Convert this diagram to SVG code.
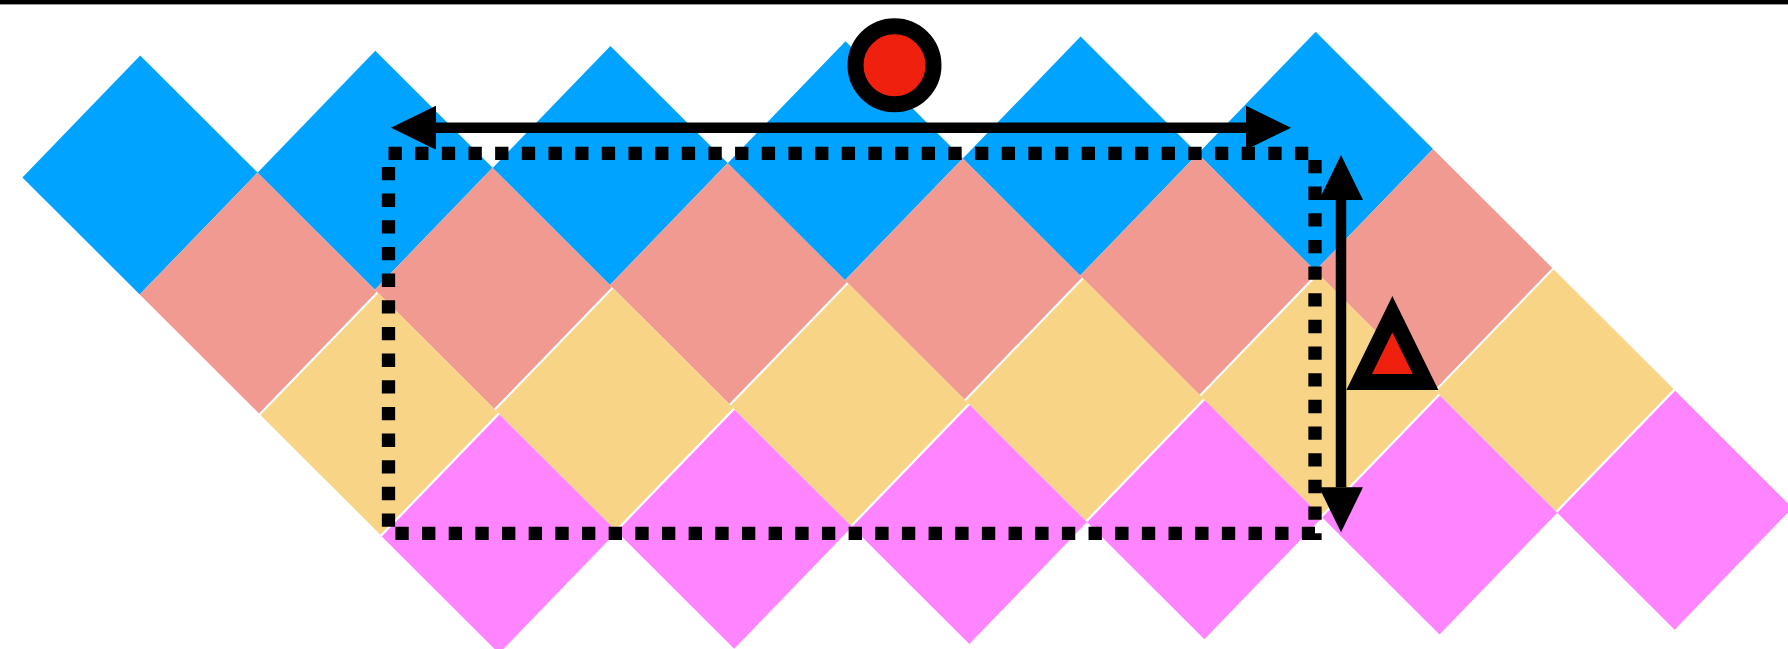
<svg xmlns="http://www.w3.org/2000/svg" width="1788" height="649" viewBox="0 0 1788 649">
  <style>
    .blue { fill: #00A3FF; }
    .pink { fill: #F19A91; }
    .yellow { fill: #F8D586; }
    .magenta { fill: #FF84FF; }
    .dot { fill: #EF210E; stroke: #000000; stroke-width: 16; }
    .tri { fill: #EF210E; stroke: #000000; stroke-width: 16; stroke-linejoin: miter; stroke-miterlimit: 10; }
    .arrow { fill: none; stroke: #000000; stroke-width: 10.5; marker-start: url(#head); marker-end: url(#head); }
    .dotted { fill: none; stroke: #000000; stroke-width: 13.3; stroke-dasharray: 13.33 13.33; stroke-linecap: butt; stroke-linejoin: miter; }
  </style>
  <defs>
    <marker id="head" markerUnits="userSpaceOnUse" markerWidth="50" markerHeight="50" refX="0" refY="0" viewBox="0 -25 50 50" orient="auto-start-reverse" overflow="visible">
      <path d="M0,-22 L45,0 L0,22 Z" fill="#000000"/>
    </marker>
  </defs>
  <rect x="0" y="0" width="1788" height="649" fill="#FFFFFF"/>
  <rect id="top-rule" x="0" y="0" width="1788" height="4.4" fill="#000000"/>

  <g id="row-blue">
    <polygon id="blue-0" class="blue" points="140.2,55.5 257.5,172.6 139.7,294.5 22.4,177.4"/>
    <polygon id="blue-1" class="blue" points="375.3,50.76 492.6,167.86 374.8,289.76 257.5,172.66"/>
    <polygon id="blue-2" class="blue" points="610.4,46.02 727.7,163.12 609.9,285.02 492.6,167.92"/>
    <polygon id="blue-3" class="blue" points="845.5,41.28 962.8,158.38 845,280.28 727.7,163.18"/>
    <polygon id="blue-4" class="blue" points="1080.6,36.54 1197.9,153.64 1080.1,275.54 962.8,158.44"/>
    <polygon id="blue-5" class="blue" points="1315.7,31.8 1433,148.9 1315.2,270.8 1197.9,153.7"/>
  </g>
  <g id="row-pink">
    <polygon id="pink-0" class="pink" points="257.5,172.6 376.8,291.7 259,413.6 139.7,294.5"/>
    <polygon id="pink-1" class="pink" points="492.6,167.86 611.9,286.96 494.1,408.86 374.8,289.76"/>
    <polygon id="pink-2" class="pink" points="727.7,163.12 847,282.22 729.2,404.12 609.9,285.02"/>
    <polygon id="pink-3" class="pink" points="962.8,158.38 1082.1,277.48 964.3,399.38 845,280.28"/>
    <polygon id="pink-4" class="pink" points="1197.9,153.64 1317.2,272.74 1199.4,394.64 1080.1,275.54"/>
    <polygon id="pink-5" class="pink" points="1433,148.9 1552.3,268 1434.5,389.9 1315.2,270.8"/>
  </g>
  <g id="row-yellow">
    <polygon id="yellow-0" class="yellow" points="378.3,293.2 498.1,412.8 380.3,534.7 260.5,415.1"/>
    <polygon id="yellow-1" class="yellow" points="613.4,288.46 733.2,408.06 615.4,529.96 495.6,410.36"/>
    <polygon id="yellow-2" class="yellow" points="848.5,283.72 968.3,403.32 850.5,525.22 730.7,405.62"/>
    <polygon id="yellow-3" class="yellow" points="1083.6,278.98 1203.4,398.58 1085.6,520.48 965.8,400.88"/>
    <polygon id="yellow-4" class="yellow" points="1318.7,274.24 1438.5,393.84 1320.7,515.74 1200.9,396.14"/>
    <polygon id="yellow-5" class="yellow" points="1553.8,269.5 1673.6,389.1 1555.8,510.9 1436,391.3"/>
  </g>
  <g id="row-magenta">
    <polygon id="magenta-0" class="magenta" points="499.6,414.5 616.9,531.6 499.1,653.5 381.8,536.4"/>
    <polygon id="magenta-1" class="magenta" points="734.7,409.76 852,526.86 734.2,648.76 616.9,531.66"/>
    <polygon id="magenta-2" class="magenta" points="969.8,405.02 1087.1,522.12 969.3,644.02 852,526.92"/>
    <polygon id="magenta-3" class="magenta" points="1204.9,400.28 1322.2,517.38 1204.4,639.28 1087.1,522.18"/>
    <polygon id="magenta-4" class="magenta" points="1440,395.54 1557.3,512.64 1439.5,634.54 1322.2,517.44"/>
    <polygon id="magenta-5" class="magenta" points="1675.1,390.8 1792.4,507.9 1674.6,629.8 1557.3,512.7"/>
  </g>

  <g id="connectors">
    <path id="dotted-frame" class="dotted" d="M388.5,153.3 H1315 V533.3 H388.5 V162"/>
    <line id="width-arrow" class="arrow" x1="436" y1="127.8" x2="1246" y2="127.8"/>
    <line id="height-arrow" class="arrow" x1="1341" y1="200" x2="1341" y2="487.3"/>
  </g>

  <g id="node-circle">
    <circle class="dot" cx="894.5" cy="65.3" r="39"/>
  </g>
  <g id="node-triangle">
    <polygon class="tri" points="1392.4,314.2 1425.6,382 1359.2,382"/>
  </g>
</svg>
